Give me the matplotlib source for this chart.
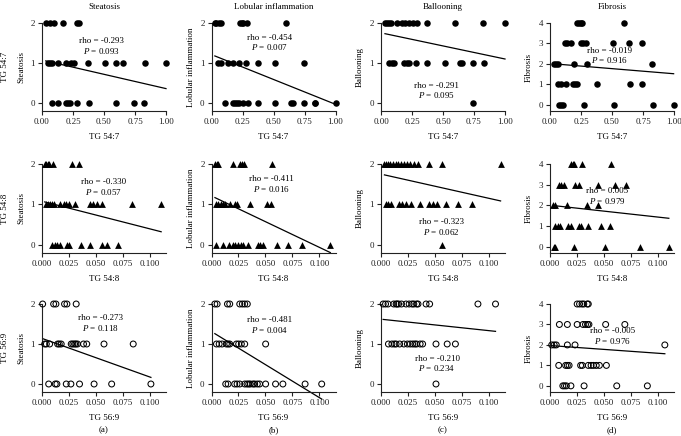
import numpy as np
import matplotlib.pyplot as plt

plt.rcParams['font.family'] = 'Liberation Serif'
plt.rcParams['mathtext.fontset'] = 'custom'
plt.rcParams['mathtext.rm'] = 'Liberation Serif'
plt.rcParams['mathtext.it'] = 'Liberation Serif:italic'

scores = ['Steatosis', 'Lobular inflammation', 'Ballooning', 'Fibrosis']
lipids = ['TG 54:7', 'TG 54:8', 'TG 56:9']
tags = ['(a)', '(b)', '(c)', '(d)']
x_ticks = [[0, 0.25, 0.5, 0.75, 1.0], [0, 0.025, 0.05, 0.075, 0.1], [0, 0.025, 0.05, 0.075, 0.1]]
x_ticklabels = [['0.00', '0.25', '0.50', '0.75', '1.00'],
                ['0.000', '0.025', '0.050', '0.075', '0.100'],
                ['0.000', '0.025', '0.050', '0.075', '0.100']]

# x values of the points at each score level
tg547_ste = {2: [0.03, 0.065, 0.10, 0.17, 0.28, 0.295],
             1: [0.048, 0.067, 0.08, 0.129, 0.193, 0.233, 0.255, 0.37, 0.512, 0.60, 0.651, 0.831, 1.0],
             0: [0.08, 0.129, 0.193, 0.209, 0.228, 0.282, 0.375, 0.60, 0.743, 0.823]}
tg547_lob = {2: [0.027, 0.04, 0.062, 0.076, 0.23, 0.243, 0.257, 0.284, 0.603],
             1: [0.054, 0.076, 0.13, 0.176, 0.222, 0.278, 0.373, 0.514, 0.743],
             0: [0.108, 0.17, 0.19, 0.208, 0.224, 0.257, 0.297, 0.373, 0.514, 0.643, 0.657,
                 0.749, 0.832, 0.838, 1.0]}
tg547_bal = {2: [0.032, 0.051, 0.067, 0.08, 0.126, 0.166, 0.193, 0.225, 0.259, 0.291, 0.372,
                 0.599, 0.826, 1.0],
             1: [0.067, 0.086, 0.104, 0.184, 0.206, 0.225, 0.281, 0.372, 0.513, 0.639, 0.655,
                 0.741, 0.829],
             0: [0.741]}
tg547_fib = {4: [0.22, 0.233, 0.247, 0.26, 0.598],
             3: [0.121, 0.134, 0.169, 0.249, 0.268, 0.29, 0.509, 0.638, 0.743],
             2: [0.035, 0.048, 0.067, 0.193, 0.295, 0.826],
             1: [0.067, 0.086, 0.129, 0.182, 0.2, 0.214, 0.375, 0.649, 0.743],
             0: [0.072, 0.088, 0.107, 0.276, 0.515, 0.831, 0.997]}

tg548_ste = {2: [0.0025, 0.0038, 0.0054, 0.0063, 0.0105, 0.0276, 0.0343],
             1: [0.0038, 0.0054, 0.0073, 0.0095, 0.011, 0.0168, 0.02, 0.0222, 0.0248, 0.0302,
                 0.0444, 0.0476, 0.0514, 0.0556, 0.0835, 0.1105],
             0: [0.0095, 0.0117, 0.0143, 0.0168, 0.0232, 0.0254, 0.0359, 0.0444, 0.0556,
                 0.0603, 0.0708]}
tg548_lob = {2: [0.0032, 0.0048, 0.0063, 0.0197, 0.0263, 0.0286, 0.0302, 0.0565],
             1: [0.0041, 0.0063, 0.0086, 0.0105, 0.0127, 0.0168, 0.0222, 0.0232, 0.0359,
                 0.0514, 0.0556],
             0: [0.0041, 0.0105, 0.0159, 0.0197, 0.0222, 0.0244, 0.027, 0.0295, 0.034, 0.0429,
                 0.0451, 0.0476, 0.0603, 0.0708, 0.0835, 0.1102]}
tg548_bal = {2: [0.0032, 0.0048, 0.0064, 0.0086, 0.0112, 0.0137, 0.016, 0.0185, 0.0214,
                 0.024, 0.0272, 0.0304, 0.0342, 0.0441, 0.0569, 0.1109],
             1: [0.0042, 0.0064, 0.0096, 0.0169, 0.0192, 0.0233, 0.0278, 0.0361, 0.0447,
                 0.0479, 0.0521, 0.0607, 0.0712, 0.084],
             0: [0.0565]}
tg548_fib = {4: [0.0192, 0.0211, 0.0224, 0.0297, 0.0562],
             3: [0.008, 0.0099, 0.0128, 0.0233, 0.0272, 0.0441, 0.06, 0.0706],
             2: [0.0026, 0.0042, 0.016, 0.0339, 0.0441],
             1: [0.0048, 0.0073, 0.0096, 0.0163, 0.0192, 0.0265, 0.0288, 0.0355, 0.0473, 0.0553],
             0: [0.0035, 0.0051, 0.0224, 0.0514, 0.0834, 0.1102]}

tg569_ste = {2: [0.0006, 0.0108, 0.0129, 0.0209, 0.0231, 0.0317],
             1: [0.0025, 0.004, 0.0071, 0.0145, 0.016, 0.0178, 0.0271, 0.0286, 0.0302, 0.0314,
                 0.0329, 0.0385, 0.0415, 0.0575, 0.0846],
             0: [0.0062, 0.0123, 0.0138, 0.0225, 0.0268, 0.0348, 0.0483, 0.0646, 0.101]}
tg569_lob = {2: [0.0031, 0.0052, 0.0148, 0.0169, 0.0262, 0.0286, 0.0308, 0.0332],
             1: [0.0046, 0.0071, 0.0098, 0.0138, 0.0154, 0.0169, 0.0231, 0.0252, 0.0277,
                 0.0308, 0.0502],
             0: [0.0132, 0.0154, 0.0215, 0.0237, 0.0262, 0.0308, 0.0329, 0.0345, 0.036, 0.0385,
                 0.04, 0.0425, 0.0446, 0.0502, 0.0594, 0.0662, 0.0868, 0.1022]}
tg569_bal = {2: [0.002, 0.0042, 0.0065, 0.0118, 0.014, 0.015, 0.0163, 0.019, 0.0232, 0.0261,
                 0.0288, 0.0304, 0.033, 0.0343, 0.0418, 0.0451, 0.0899, 0.1062],
             1: [0.0069, 0.0101, 0.0124, 0.014, 0.0173, 0.0212, 0.0245, 0.0271, 0.0294, 0.0314,
                 0.033, 0.0363, 0.0386, 0.051, 0.0614, 0.069],
             0: [0.051]}
tg569_fib = {4: [0.0252, 0.0274, 0.0297, 0.0313, 0.0345, 0.0355],
             3: [0.0087, 0.0161, 0.0252, 0.0306, 0.0329, 0.0348, 0.0361, 0.0516, 0.0694],
             2: [0.0016, 0.0039, 0.0058, 0.0161, 0.0232, 0.1065],
             1: [0.0081, 0.0145, 0.0161, 0.0177, 0.0284, 0.03, 0.0355, 0.0381, 0.0403, 0.0429,
                 0.0458, 0.0523],
             0: [0.0119, 0.0135, 0.0152, 0.0194, 0.0316, 0.0619, 0.0903]}

panels = [[tg547_ste, tg547_lob, tg547_bal, tg547_fib],
          [tg548_ste, tg548_lob, tg548_bal, tg548_fib],
          [tg569_ste, tg569_lob, tg569_bal, tg569_fib]]

rho = [[-0.293, -0.454, -0.291, -0.019],
       [-0.330, -0.411, -0.323, 0.005],
       [-0.273, -0.481, -0.210, -0.005]]
pval = [[0.093, 0.007, 0.095, 0.916],
        [0.057, 0.016, 0.062, 0.979],
        [0.118, 0.004, 0.234, 0.976]]

# regression lines
fit_icpt = [[1.074, 1.21, 1.754, 2.02],
            [1.08, 1.21, 1.75, 2.01],
            [1.14, 1.31, 1.62, 1.97]]
fit_slope = [[-0.714, -1.243, -0.654, -0.5],
             [-6.83, -12.7, -5.98, -5.74],
             [-9.65, -16.5, -2.86, -3.76]]

# layout
W, H = 681, 436
col_left = [42, 211.5, 381, 550]
ax_w = 124
row_top = [23, 164, 304]
row_bot = [111, 253, 392]
x_max = [1.0, 0.115, 0.115]
text_xy = [[(0.48, 1.55), (0.47, 1.63), (0.45, 0.43), (0.48, 2.65)],
           [(0.057, 1.56), (0.0556, 1.62), (0.056, 0.57), (0.053, 2.7)],
           [(0.054, 1.65), (0.054, 1.6), (0.052, 0.63), (0.058, 2.68)]]
text_dy = [0.24, 0.24, 0.24, 0.48]

fig = plt.figure(figsize=(W / 100, H / 100), dpi=100)
fs = 6.5

for r in range(3):
    for c in range(4):
        ax = fig.add_axes([col_left[c] / W, 1 - row_bot[r] / H, ax_w / W,
                           (row_bot[r] - row_top[r]) / H])
        d = panels[r][c]
        xs = np.concatenate([np.array(v, float) for v in d.values()])
        ys = np.concatenate([np.full(len(v), k, float) for k, v in d.items()])
        if r == 0:
            ax.scatter(xs, ys, s=22, c='black', marker='o', linewidths=0, clip_on=False, zorder=3)
        elif r == 1:
            ax.scatter(xs, ys, s=24, c='black', marker='^', linewidths=0, clip_on=False, zorder=3)
        else:
            ax.scatter(xs, ys, s=18, facecolors='none', edgecolors='black', marker='o',
                       linewidths=0.75, clip_on=False, zorder=3)
        lx = np.array([xs.min(), xs.max()])
        ax.plot(lx, fit_icpt[r][c] + fit_slope[r][c] * lx, color='black', lw=0.9, clip_on=False)

        top = 4 if c == 3 else 2
        ax.set_ylim(-0.3 if c == 3 else -0.2, top)
        ax.set_yticks(range(top + 1))
        ax.set_xlim(0, x_max[r])
        ax.set_xticks(x_ticks[r])
        ax.set_xticklabels(x_ticklabels[r])
        for s in ['top', 'right']:
            ax.spines[s].set_visible(False)
        for s in ['left', 'bottom']:
            ax.spines[s].set_linewidth(0.8)
            ax.spines[s].set_color('#222222')
        ax.tick_params(labelsize=fs, length=3, width=0.8, pad=2, colors='#222222')
        ax.set_xlabel(lipids[r], fontsize=fs, labelpad=5)
        ax.set_ylabel(scores[c], fontsize=fs, labelpad=4)
        if r == 0:
            ax.set_title(scores[c], fontsize=fs, pad=10)

        tx, ty = text_xy[r][c]
        ax.text(tx, ty, 'rho = %.3f' % rho[r][c], fontsize=fs, ha='center', va='center')
        ax.text(tx, ty - text_dy[c], '$P$ = %.3f' % pval[r][c], fontsize=fs,
                ha='center', va='center')

    fig.text(5 / W, 1 - (row_top[r] + row_bot[r]) / 2 / H, lipids[r], rotation=90,
             fontsize=fs, ha='center', va='center')

for c in range(4):
    fig.text((col_left[c] + ax_w / 2) / W, 1 - 430 / H, tags[c], fontsize=fs,
             ha='center', va='center')

fig.savefig('out.png', dpi=100)
